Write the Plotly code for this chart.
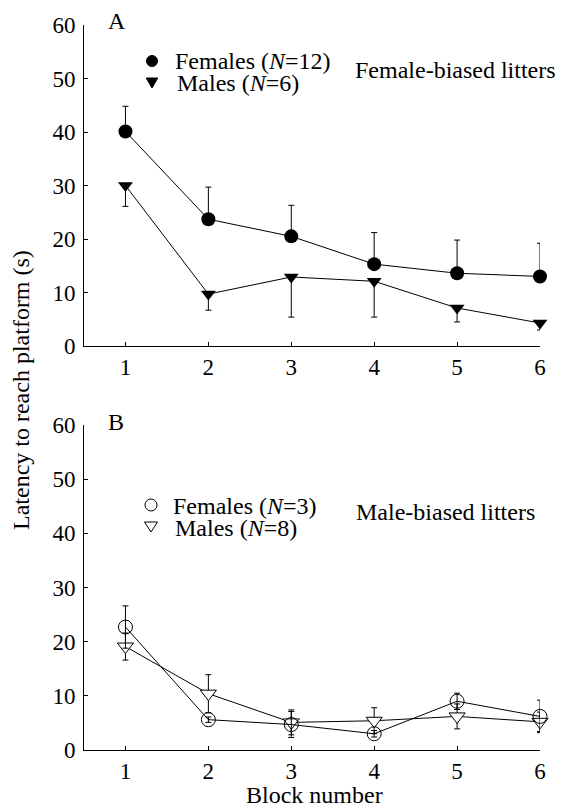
import plotly.graph_objects as go

# ---------------- data ----------------
blocks = [1, 2, 3, 4, 5, 6]
tick_labels = ["1", "2", "3", "4", "5", "6"]

# Panel A: female-biased litters
a_fem_mean = [40.1, 23.7, 20.5, 15.3, 13.6, 13.0]
a_fem_err_up = [4.7, 6.0, 5.8, 5.9, 6.2, 6.2]
a_male_mean = [30.0, 9.7, 12.9, 12.1, 7.1, 4.3]
a_male_err_down = [3.9, 3.0, 7.5, 6.7, 2.6, 1.3]

# Panel B: male-biased litters
b_fem_mean = [22.7, 5.6, 4.7, 3.0, 9.0, 6.2]
b_fem_err = [3.9, 0.5, 2.4, 0.6, 1.5, 3.0]
b_male_mean = [19.1, 10.4, 5.1, 5.4, 6.2, 5.2]
b_male_err = [2.5, 3.5, 2.3, 2.4, 2.3, 1.8]

zeros = [0] * len(blocks)

FONT = "Liberation Serif"
W, H = 563, 811
L, R, T, B = 84, 23, 25, 61
PW, PH = W - L - R, H - T - B


def px(x):
    return (x - L) / PW


def py(y):
    return (H - B - y) / PH


fig = go.Figure()

line = dict(color="black", width=1)

# Panel A
fig.add_trace(go.Scatter(
    x=blocks, y=a_fem_mean, mode="lines+markers", xaxis="x", yaxis="y",
    line=line, marker=dict(symbol="circle", size=14, color="black"),
    error_y=dict(type="data", symmetric=False, array=a_fem_err_up, arrayminus=zeros,
                 color="black", thickness=1, width=3),
    cliponaxis=False, showlegend=False))
fig.add_trace(go.Scatter(
    x=blocks, y=a_male_mean, mode="lines+markers", xaxis="x", yaxis="y",
    line=line, marker=dict(symbol="triangle-down", size=13, color="black"),
    error_y=dict(type="data", symmetric=False, array=zeros, arrayminus=a_male_err_down,
                 color="black", thickness=1, width=3),
    cliponaxis=False, showlegend=False))

# Panel B
fig.add_trace(go.Scatter(
    x=blocks, y=b_male_mean, mode="lines+markers", xaxis="x2", yaxis="y2",
    line=line, marker=dict(symbol="triangle-down", size=14, color="white",
                           line=dict(color="black", width=1)),
    error_y=dict(type="data", array=b_male_err, color="black", thickness=1, width=3),
    cliponaxis=False, showlegend=False))
fig.add_trace(go.Scatter(
    x=blocks, y=b_fem_mean, mode="lines+markers", xaxis="x2", yaxis="y2",
    line=line, marker=dict(symbol="circle", size=14, color="rgba(255,255,255,0)",
                           line=dict(color="black", width=1)),
    error_y=dict(type="data", array=b_fem_err, color="black", thickness=1, width=3),
    cliponaxis=False, showlegend=False))

axis_common = dict(
    showline=True, linecolor="black", linewidth=1, ticks="inside", ticklen=4,
    tickcolor="black", tickwidth=1, showgrid=False, zeroline=False,
    tickfont=dict(family=FONT, size=23, color="black"), automargin=False,
)
xcommon = dict(axis_common, range=[0.5, 6.0], tickvals=blocks, ticktext=tick_labels)
ycommon = dict(axis_common, range=[0, 60], tickvals=[0, 10, 20, 30, 40, 50, 60],
               ticklabelstandoff=3)

y_a_bottom = py(346)
y_b_top = py(425)

fig.update_layout(
    width=W, height=H,
    margin=dict(l=L, r=R, t=T, b=B, autoexpand=False),
    paper_bgcolor="white", plot_bgcolor="white",
    font=dict(family=FONT, size=24, color="black"),
    xaxis=dict(xcommon, domain=[0, 1], anchor="y"),
    yaxis=dict(ycommon, domain=[y_a_bottom, 1], anchor="x"),
    xaxis2=dict(xcommon, domain=[0, 1], anchor="y2"),
    yaxis2=dict(ycommon, domain=[0, y_b_top], anchor="x2"),
)

ann = []


def text(x, y, s, xanchor="left", angle=0):
    ann.append(dict(x=px(x), y=py(y), xref="paper", yref="paper", text=s,
                    showarrow=False, xanchor=xanchor, yanchor="middle",
                    textangle=angle, font=dict(family=FONT, size=24, color="black")))


text(117, 21, "A", "center")
text(173, 61, "Females (<i>N</i>=12)")
text(175, 83, "Males (<i>N</i>=6)")
text(353, 70, "Female-biased litters")

text(116, 422, "B", "center")
text(171, 506, "Females (<i>N</i>=3)")
text(173, 528, "Males (<i>N</i>=8)")
text(354, 512, "Male-biased litters")

text(314, 795, "Block number", "center")
text(21, 390, "Latency to reach platform (s)", "center", -90)

fig.update_layout(annotations=ann)

shapes = []


def circle_key(x, y, filled, r=5.5):
    shapes.append(dict(type="circle", xref="paper", yref="paper",
                       xsizemode="pixel", ysizemode="pixel",
                       xanchor=px(x), yanchor=py(y), x0=-r, x1=r, y0=-r, y1=r,
                       line=dict(color="black", width=1),
                       fillcolor="black" if filled else "white"))


def tri_key(x, y, filled, w=5.8):
    shapes.append(dict(type="path", xref="paper", yref="paper",
                       xsizemode="pixel", ysizemode="pixel",
                       xanchor=px(x), yanchor=py(y),
                       path=f"M{-w},4 L{w},4 L0,-6 Z",
                       line=dict(color="black", width=1),
                       fillcolor="black" if filled else "white"))


circle_key(152, 61, True)
tri_key(152, 82, True)
circle_key(151, 505, False, 6)
tri_key(151, 526, False, 6.5)

fig.update_layout(shapes=shapes)

fig.write_html("out.html", config={"displayModeBar": False},
               post_script="document.body.style.margin='0';")
